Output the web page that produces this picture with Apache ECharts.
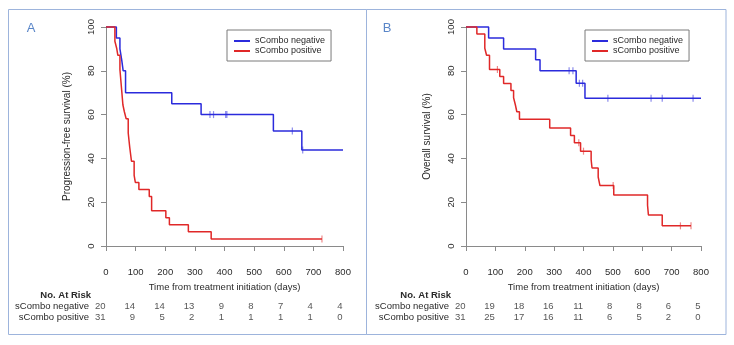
<!DOCTYPE html>
<html>
<head>
<meta charset="utf-8">
<script src="https://cdn.jsdelivr.net/npm/echarts@6/dist/echarts.min.js"></script>
<style>
  html, body { margin: 0; padding: 0; background: #fff; }
  #chart { width: 734px; height: 345px; }
</style>
</head>
<body>
<div id="chart"></div>
<script>
// at-risk table columns (days)
const riskDays = [0, 100, 200, 300, 400, 500, 600, 700, 800];
const riskRows = ['sCombo negative', 'sCombo positive'];

// A: progression-free survival
const pfsNegTimes = [0, 35, 47, 53, 58, 66, 222, 321, 565, 661, 800];
const pfsNegSurv = [100, 95, 90, 85, 80, 70, 65, 60, 52.5, 43.8, 43.8];
const pfsNegCensTimes = [351, 363, 404, 408, 629, 664];
const pfsNegCensSurv = [60, 60, 60, 60, 52.5, 43.8];
const pfsPosTimes = [0, 30, 36, 40, 47, 53, 57, 62, 68, 75, 80, 86, 95, 99, 111, 146, 154, 202, 214, 278, 355, 729];
const pfsPosSurv = [100, 93.5, 90.3, 87.1, 80.6, 71.0, 64.5, 61.3, 58.1, 51.6, 45.2, 38.7, 32.3, 29.0, 25.8, 22.6, 16.1, 12.9, 9.7, 6.5, 3.2, 3.2];
const pfsPosCensTimes = [729];
const pfsPosCensSurv = [3.2];
const pfsRiskNeg = [20, 14, 14, 13, 9, 8, 7, 4, 4];
const pfsRiskPos = [31, 9, 5, 2, 1, 1, 1, 1, 0];

// B: overall survival
const osNegTimes = [0, 77, 128, 237, 252, 375, 405, 800];
const osNegSurv = [100, 95, 90, 85, 80, 74.3, 67.5, 67.5];
const osNegCensTimes = [351, 364, 386, 397, 483, 630, 668, 773];
const osNegCensSurv = [80, 80, 74.3, 74.3, 67.5, 67.5, 67.5, 67.5];
const osPosTimes = [0, 37, 64, 70, 80, 115, 128, 153, 162, 168, 173, 182, 285, 356, 369, 390, 426, 429, 450, 456, 503, 618, 621, 668, 766];
const osPosSurv = [100, 96.8, 90.3, 87.1, 80.6, 77.4, 74.2, 71.0, 67.7, 64.5, 61.3, 57.9, 53.9, 50.5, 47.1, 43.3, 39.4, 35.6, 31.5, 27.6, 23.3, 18.6, 14.2, 9.2, 9.2];
const osPosCensTimes = [107, 384, 400, 501, 730, 766];
const osPosCensSurv = [80.6, 47.1, 43.3, 27.6, 9.2, 9.2];
const osRiskNeg = [20, 19, 18, 16, 11, 8, 8, 6, 5];
const osRiskPos = [31, 25, 17, 16, 11, 6, 5, 2, 0];

const BLUE = '#2b2bdc';
const RED = '#e02828';
const AXIS = '#8a8a8a';
const TXT = '#2a2a2a';
const FONT = '"Liberation Sans", Arial, sans-serif';

const chart = echarts.init(document.getElementById('chart'));

const pairs = (xs, ys) => xs.map((x, i) => [x, ys[i]]);

const survX = (gridIndex) => ({
  gridIndex,
  type: 'value',
  min: 0,
  max: 800,
  interval: 100,
  offset: 11,
  axisLine: { lineStyle: { color: AXIS } },
  axisTick: { length: 5, lineStyle: { color: AXIS } },
  axisLabel: { color: TXT, fontSize: 9.5, margin: 10 },
  splitLine: { show: false },
  name: 'Time from treatment initiation (days)',
  nameLocation: 'middle',
  nameGap: 22,
  nameTextStyle: { color: TXT, fontSize: 9.5 },
});

const survY = (gridIndex, name) => ({
  gridIndex,
  type: 'value',
  min: 0,
  max: 100,
  interval: 20,
  axisLine: { show: true, lineStyle: { color: AXIS } },
  axisTick: { show: true, length: 5, lineStyle: { color: AXIS } },
  axisLabel: { color: TXT, fontSize: 9.5, rotate: 90, margin: 10 },
  splitLine: { show: false },
  name,
  nameLocation: 'middle',
  nameGap: 34,
  nameTextStyle: { color: TXT, fontSize: 10 },
});

const riskX = (gridIndex) => ({ gridIndex, type: 'value', min: 0, max: 800, show: false });
const riskY = (gridIndex) => ({
  gridIndex,
  type: 'category',
  inverse: true,
  data: riskRows,
  axisLine: { show: false },
  axisTick: { show: false },
  axisLabel: { color: TXT, fontSize: 9.5, margin: 17, interval: 0 },
});

const kmLine = (name, axis, times, surv, color) => ({
  name,
  type: 'line',
  step: 'end',
  xAxisIndex: axis,
  yAxisIndex: axis,
  data: pairs(times, surv),
  showSymbol: false,
  symbol: 'none',
  clip: false,
  lineStyle: { color, width: 1.5 },
  itemStyle: { color },
  z: 3,
});

const censors = (axis, times, surv, color) => ({
  name: 'censored',
  type: 'scatter',
  xAxisIndex: axis,
  yAxisIndex: axis,
  data: pairs(times, surv),
  symbol: 'rect',
  symbolSize: [1.2, 7],
  clip: false,
  itemStyle: { color, opacity: 0.55 },
  z: 4,
});

const riskSeries = (axis, row, counts) => ({
  name: 'risk',
  type: 'scatter',
  xAxisIndex: axis,
  yAxisIndex: axis,
  data: riskDays.map((d, i) => [d, row, counts[i]]),
  symbolSize: 1,
  itemStyle: { color: 'rgba(0,0,0,0)' },
  label: {
    show: true,
    position: 'left',
    distance: 0,
    color: TXT,
    fontSize: 9.5,
    formatter: (p) => String(p.value[2]),
  },
});

const legend = (left) => ({
  data: ['sCombo negative', 'sCombo positive'],
  orient: 'vertical',
  left,
  top: 30,
  padding: [6, 6, 5, 7],
  itemGap: 0,
  itemWidth: 16,
  itemHeight: 2,
  icon: 'rect',
  selectedMode: false,
  backgroundColor: '#fff',
  borderColor: '#7a7a7a',
  borderWidth: 1,
  borderRadius: 0,
  textStyle: { color: TXT, fontSize: 9, lineHeight: 10 },
});

chart.setOption({
  animation: false,
  textStyle: { fontFamily: FONT },
  grid: [
    { left: 106, right: 391, top: 27, bottom: 99 },
    { left: 466, right: 33, top: 27, bottom: 99 },
    { left: 106, right: 391, top: 301, height: 22 },
    { left: 466, right: 33, top: 301, height: 22 },
  ],
  xAxis: [survX(0), survX(1), riskX(2), riskX(3)],
  yAxis: [
    survY(0, 'Progression-free survival (%)'),
    survY(1, 'Overall survival (%)'),
    riskY(2),
    riskY(3),
  ],
  legend: [legend(227), legend(585)],
  series: [
    kmLine('sCombo negative', 0, pfsNegTimes, pfsNegSurv, BLUE),
    kmLine('sCombo positive', 0, pfsPosTimes, pfsPosSurv, RED),
    censors(0, pfsNegCensTimes, pfsNegCensSurv, BLUE),
    censors(0, pfsPosCensTimes, pfsPosCensSurv, RED),
    kmLine('sCombo negative', 1, osNegTimes, osNegSurv, BLUE),
    kmLine('sCombo positive', 1, osPosTimes, osPosSurv, RED),
    censors(1, osNegCensTimes, osNegCensSurv, BLUE),
    censors(1, osPosCensTimes, osPosCensSurv, RED),
    riskSeries(2, riskRows[0], pfsRiskNeg),
    riskSeries(2, riskRows[1], pfsRiskPos),
    riskSeries(3, riskRows[0], osRiskNeg),
    riskSeries(3, riskRows[1], osRiskPos),
  ],
  graphic: [
    { type: 'rect', shape: { x: 8.5, y: 9.5, width: 358, height: 325 }, style: { fill: 'none', stroke: '#9db4dc', lineWidth: 1 } },
    { type: 'rect', shape: { x: 366.5, y: 9.5, width: 359.5, height: 325 }, style: { fill: 'none', stroke: '#9db4dc', lineWidth: 1 } },
    { type: 'text', x: 31, y: 28, style: { text: 'A', fill: '#5a86c8', font: '13px ' + FONT, align: 'center', verticalAlign: 'middle', textAlign: 'center', textVerticalAlign: 'middle' } },
    { type: 'text', x: 387, y: 28, style: { text: 'B', fill: '#5a86c8', font: '13px ' + FONT, align: 'center', verticalAlign: 'middle', textAlign: 'center', textVerticalAlign: 'middle' } },
    { type: 'text', x: 91, y: 295, style: { text: 'No. At Risk', fill: TXT, font: 'bold 9.5px ' + FONT, align: 'right', verticalAlign: 'middle', textAlign: 'right', textVerticalAlign: 'middle' } },
    { type: 'text', x: 451, y: 295, style: { text: 'No. At Risk', fill: TXT, font: 'bold 9.5px ' + FONT, align: 'right', verticalAlign: 'middle', textAlign: 'right', textVerticalAlign: 'middle' } },
  ],
});
</script>
</body>
</html>
